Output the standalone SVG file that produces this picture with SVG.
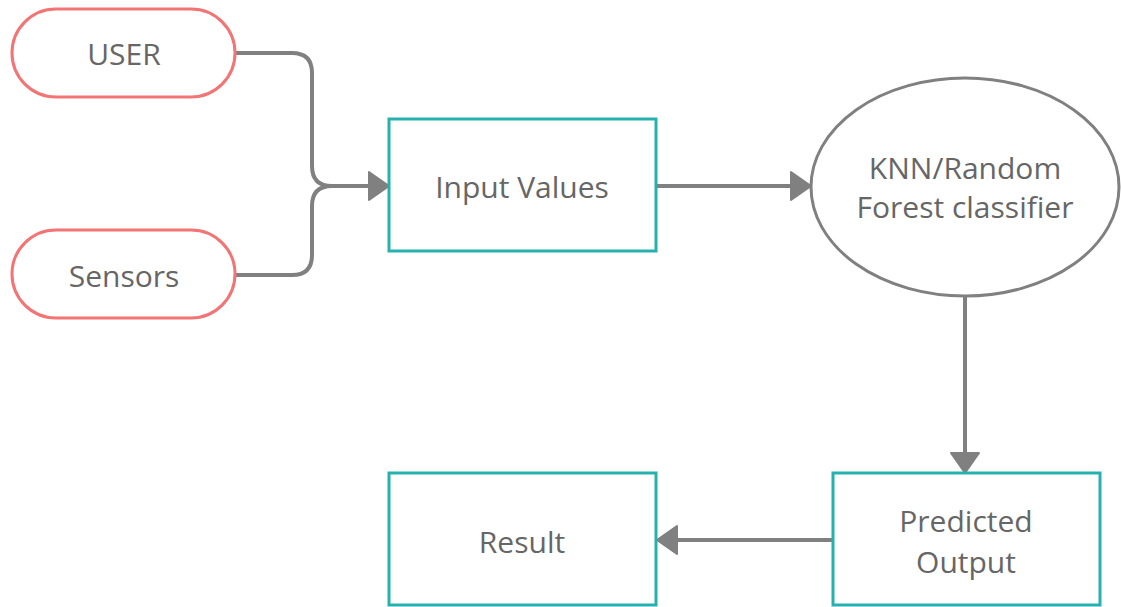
<svg xmlns="http://www.w3.org/2000/svg" width="1121" height="607" viewBox="0 0 1121 607">
<style>
.pill{fill:#fff;stroke:#f27474;stroke-width:3}
.box{fill:#fff;stroke:#27b1ae;stroke-width:3}
.ell{fill:#fff;stroke:#808080;stroke-width:3}
.lbl{font-family:"Open Sans","Liberation Sans",sans-serif;font-size:30px;fill:#666;text-anchor:middle}
.con{fill:none;stroke:#808080;stroke-width:4;stroke-linejoin:round}
.head{fill:#808080;stroke:#808080;stroke-width:2;stroke-linejoin:round}
</style>
<rect width="1121" height="607" fill="#fff"/>
<g id="connectors">
<path class="con" d="M235,53 H292 Q312,53 312,73 V166 Q312,186 332,186 H370"/>
<path class="con" d="M235,275 H292 Q312,275 312,255 V206 Q312,186 332,186"/>
<polygon class="head" points="369,172 389,186 369,200"/>
<path class="con" d="M656,186 H792"/>
<polygon class="head" points="791,172 811,186 791,200"/>
<path class="con" d="M965,297 V455"/>
<polygon class="head" points="951,453 965,473 979,453"/>
<path class="con" d="M833,540 H676"/>
<polygon class="head" points="677,526 657,540 677,554"/>
</g>
<g id="user">
<rect class="pill" x="12" y="9" width="223" height="88" rx="44"/>
<text class="lbl" x="124" y="65">USER</text>
</g>
<g id="sensors">
<rect class="pill" x="12" y="230" width="223" height="88" rx="44"/>
<text class="lbl" x="124" y="287">Sensors</text>
</g>
<g id="input">
<rect class="box" x="389" y="119" width="267" height="132"/>
<text class="lbl" x="522" y="198">Input Values</text>
</g>
<g id="classifier">
<ellipse class="ell" cx="965" cy="187" rx="154" ry="109"/>
<text class="lbl" x="965" y="179">KNN/Random</text>
<text class="lbl" x="965" y="218">Forest classifier</text>
</g>
<g id="predicted">
<rect class="box" x="833" y="473" width="267" height="132"/>
<text class="lbl" x="966" y="532">Predicted</text>
<text class="lbl" x="966" y="573">Output</text>
</g>
<g id="result">
<rect class="box" x="389" y="473" width="267" height="132"/>
<text class="lbl" x="522" y="553">Result</text>
</g>
</svg>
